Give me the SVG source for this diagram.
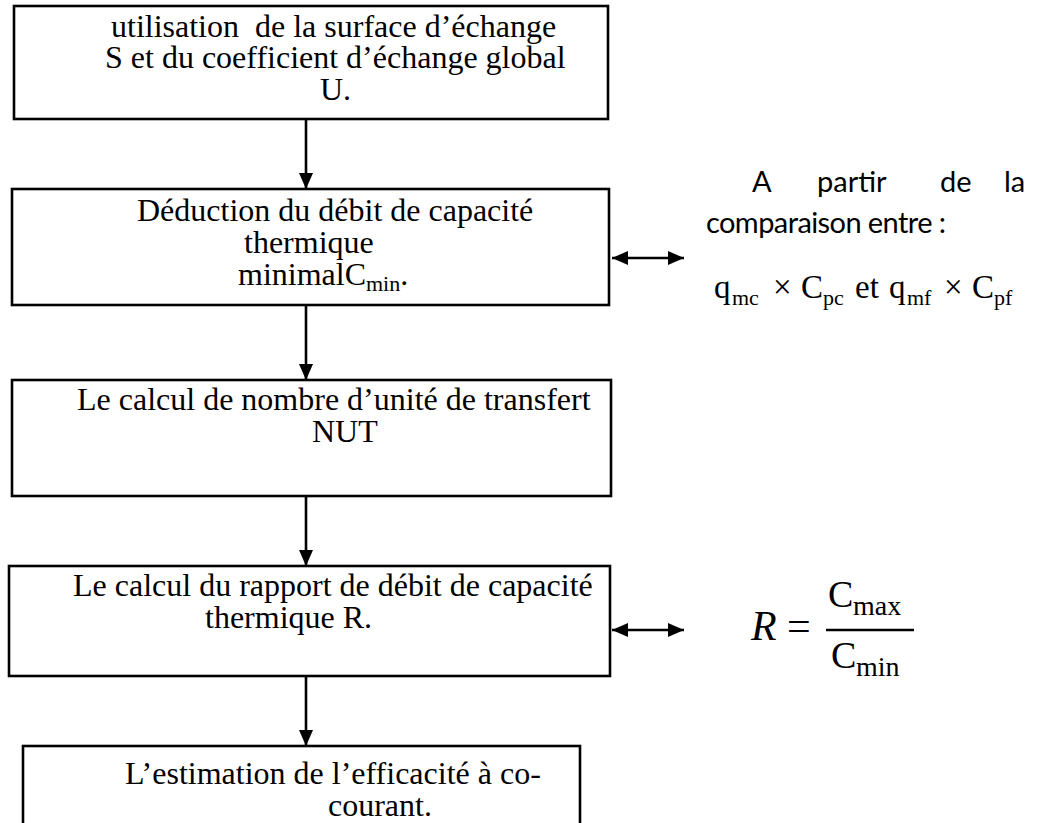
<svg xmlns="http://www.w3.org/2000/svg" width="1042" height="823" viewBox="0 0 1042 823">
<defs>
<marker id="ah" viewBox="0 0 16 14" refX="16" refY="7" markerWidth="16" markerHeight="14" markerUnits="userSpaceOnUse" orient="auto-start-reverse">
<path d="M0,0 L16,7 L0,14 Z" fill="#000"/>
</marker>
</defs>
<style>
.box{fill:#fff;stroke:#000;stroke-width:2.6}
.t{font-family:"Liberation Serif","Times New Roman",serif;font-size:32px;fill:#000}
.s{font-size:22px}
.c{font-family:Lato,"Liberation Sans",sans-serif;font-size:29px;fill:#000}
.m{font-family:"Liberation Serif","Times New Roman",serif;fill:#000}
.ln{stroke:#000;stroke-width:2.6;fill:none}
</style>
<rect width="1042" height="823" fill="#fff"/>
<g id="connectors">
<line class="ln" x1="306" y1="120" x2="306" y2="189" marker-end="url(#ah)"/>
<line class="ln" x1="306" y1="306" x2="306" y2="380" marker-end="url(#ah)"/>
<line class="ln" x1="306" y1="497" x2="306" y2="566" marker-end="url(#ah)"/>
<line class="ln" x1="306" y1="677" x2="306" y2="746" marker-end="url(#ah)"/>
<line class="ln" x1="612" y1="258" x2="684" y2="258" marker-start="url(#ah)" marker-end="url(#ah)"/>
<line class="ln" x1="612" y1="630" x2="684" y2="630" marker-start="url(#ah)" marker-end="url(#ah)"/>
</g>
<g id="node1">
<rect class="box" x="14" y="6" width="594" height="113"/>
<text class="t" x="111" y="37" xml:space="preserve">utilisation  de la surface d’échange</text>
<text class="t" x="105" y="68">S et du coefficient d’échange global</text>
<text class="t" x="320" y="100">U.</text>
</g>
<g id="node2">
<rect class="box" x="12" y="189" width="597" height="116"/>
<text class="t" x="137" y="221">Déduction du débit de capacité</text>
<text class="t" x="244" y="253">thermique</text>
<text class="t" x="238" y="285">minimalC<tspan class="s" dy="6">min</tspan><tspan dy="-6">.</tspan></text>
</g>
<g id="note1">
<text class="c" x="752" y="192">A</text>
<text class="c" x="817" y="192">partir</text>
<text class="c" x="940" y="192">de</text>
<text class="c" x="1004" y="192">la</text>
<text class="c" x="706" y="233" textLength="240">comparaison entre :</text>
<g class="m">
<text x="714" y="298" font-size="33">q</text>
<text x="732" y="305" font-size="22">mc</text>
<text x="773" y="298" font-size="33">×</text>
<text x="801" y="298" font-size="33">C</text>
<text x="823" y="305" font-size="22">pc</text>
<text x="855" y="298" font-size="33">et</text>
<text x="889" y="298" font-size="33">q</text>
<text x="907" y="305" font-size="22">mf</text>
<text x="944" y="298" font-size="33">×</text>
<text x="972" y="298" font-size="33">C</text>
<text x="994" y="305" font-size="22">pf</text>
</g>
</g>
<g id="node3">
<rect class="box" x="12" y="380" width="599" height="116"/>
<text class="t" x="77" y="410">Le calcul de nombre d’unité de transfert</text>
<text class="t" x="312" y="442">NUT</text>
</g>
<g id="node4">
<rect class="box" x="9" y="566" width="601" height="110"/>
<text class="t" x="73" y="596">Le calcul du rapport de débit de capacité</text>
<text class="t" x="205" y="628">thermique R.</text>
</g>
<g id="note2" class="m">
<text x="751" y="640" font-size="42" font-style="italic">R</text>
<text x="787" y="640" font-size="42">=</text>
<line x1="826" y1="630" x2="914" y2="630" stroke="#000" stroke-width="2.6"/>
<text x="828" y="607" font-size="38">C</text>
<text x="853" y="615" font-size="28">max</text>
<text x="831" y="668" font-size="38">C</text>
<text x="856" y="676" font-size="28">min</text>
</g>
<g id="node5">
<rect class="box" x="23" y="746" width="557" height="100"/>
<text class="t" x="125" y="784">L’estimation de l’efficacité à co-</text>
<text class="t" x="328" y="816">courant.</text>
</g>
</svg>
